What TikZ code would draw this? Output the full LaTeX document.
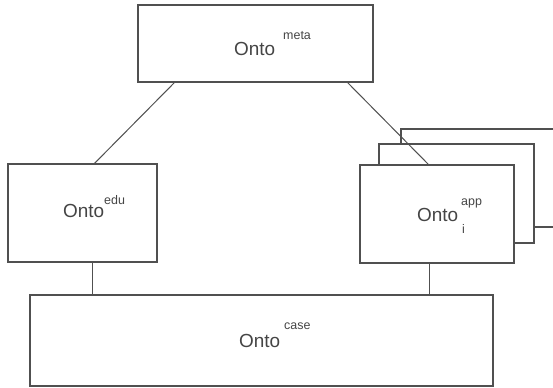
\documentclass[tikz,border=0pt]{standalone}
\usepackage{fontspec}
\setmainfont{Liberation Sans}
\definecolor{ln}{HTML}{505050}
\definecolor{tx}{HTML}{454545}
\begin{document}
\begin{tikzpicture}[x=1bp,y=-1bp,
  box/.style={draw=ln,line width=1.1bp,fill=white,inner sep=0pt},
  big/.style={font=\fontsize{19}{19}\selectfont,text=tx,inner sep=0pt,anchor=base west},
  sml/.style={font=\fontsize{12.5}{12.5}\selectfont,text=tx,inner sep=0pt,anchor=base west},
  conn/.style={draw=ln,line width=1bp}]
\useasboundingbox (0,0) rectangle (553,387);
\fill[white] (0,0) rectangle (553,387);
\begin{scope}
\clip (0,0) rectangle (553,387);
% boxes
\node[box,minimum width=235bp,minimum height=77bp] (meta) at (255.5,43.5) {};
\node[box,minimum width=149bp,minimum height=98bp] (edu) at (82.5,213) {};
\node[box,minimum width=155bp,minimum height=98bp] (appback) at (478.5,178) {};
\node[box,minimum width=155bp,minimum height=99bp] (appmid) at (456.5,193.5) {};
\node[box,minimum width=154bp,minimum height=98bp] (app) at (437,214) {};
\node[box,minimum width=463bp,minimum height=91bp] (case) at (261.5,340.5) {};
\end{scope}
% connectors
\draw[conn] ([xshift=37bp]meta.south west) -- ([xshift=87bp]edu.north west);
\draw[conn] ([xshift=-26bp]meta.south east) -- ([xshift=69bp]app.north west);
\draw[conn] ([xshift=85bp]edu.south west) -- ([xshift=85bp]edu.south west |- case.north);
\draw[conn] ([xshift=70bp]app.south west) -- ([xshift=70bp]app.south west |- case.north);
% labels
\node[big] (metaT) at (234,55) {Onto};
\node[sml] (metaS) at (283,39) {meta};
\node[big] (eduT) at (63,217) {Onto};
\node[sml] (eduS) at (104,204) {edu};
\node[big] (appT) at (417,221) {Onto};
\node[sml] (appS) at (461,205) {app};
\node[sml] (appI) at (462,233) {i};
\node[big] (caseT) at (239,347) {Onto};
\node[sml] (caseS) at (284,329) {case};
\end{tikzpicture}
\end{document}
